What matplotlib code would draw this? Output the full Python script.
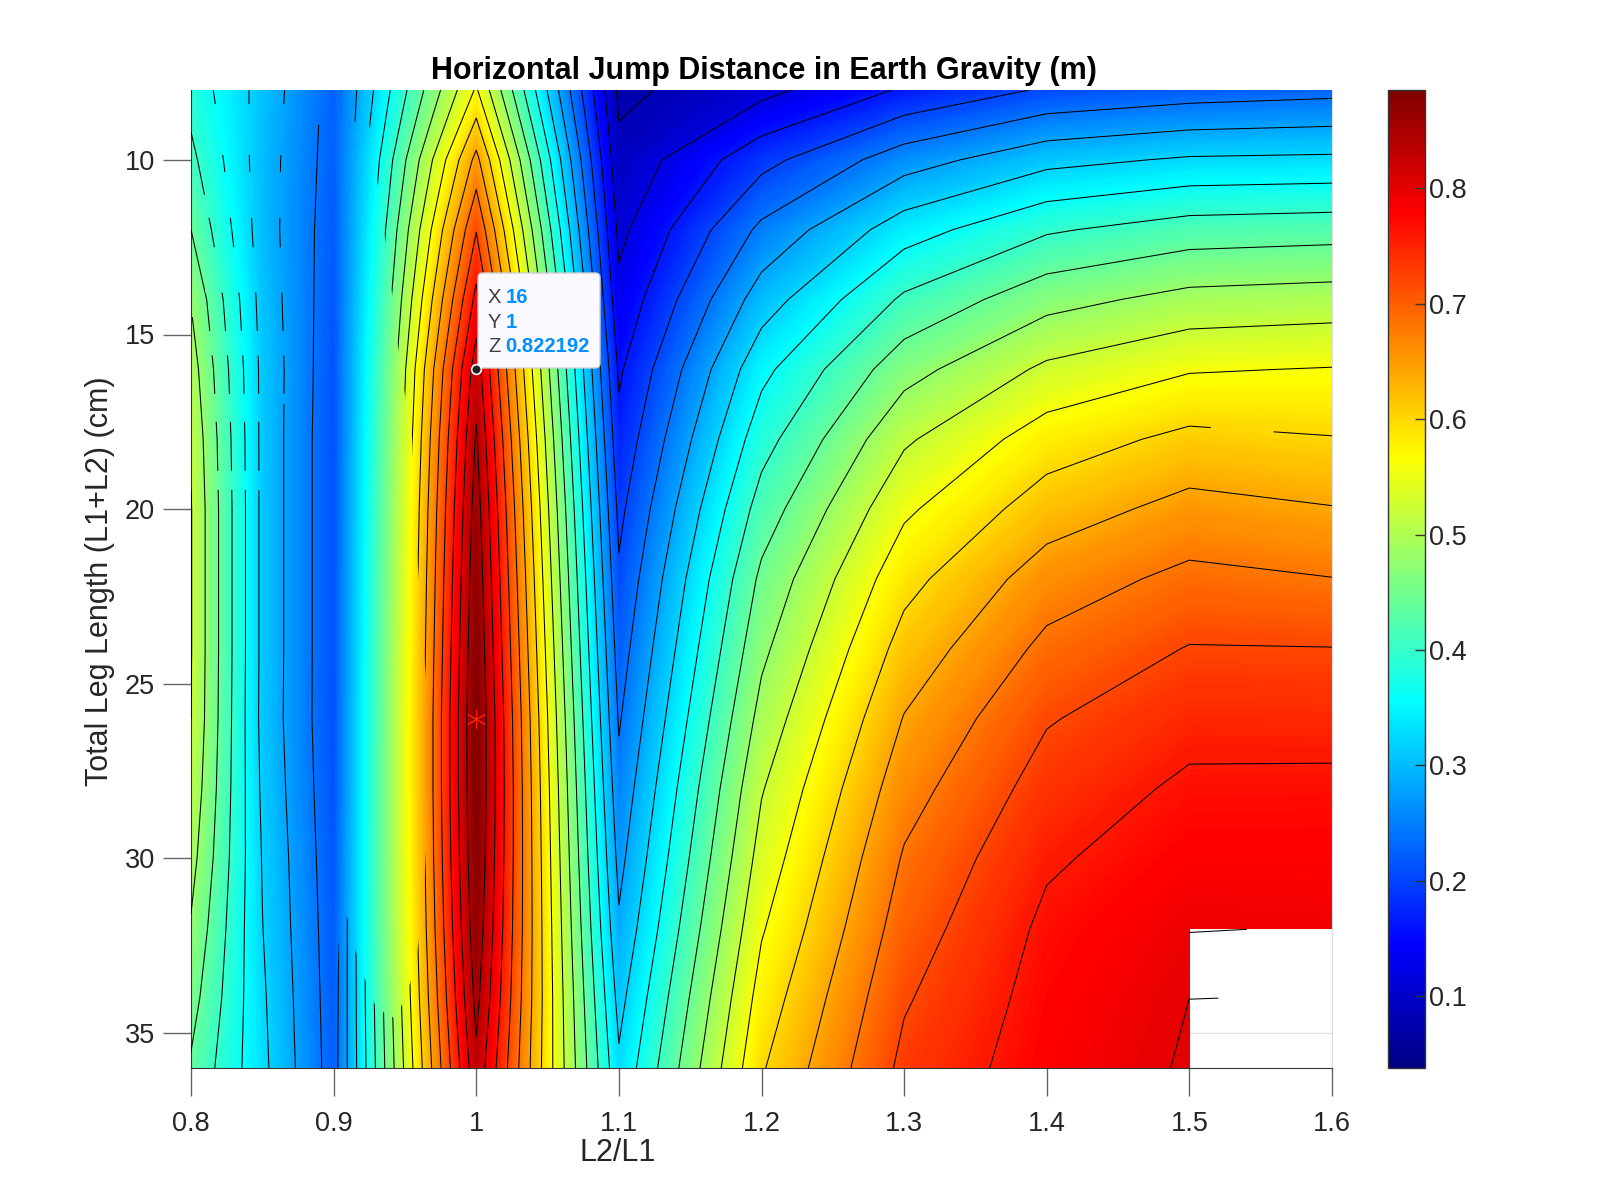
import numpy as np
import matplotlib
matplotlib.use("Agg")
import matplotlib.pyplot as plt
from matplotlib.cm import ScalarMappable
from matplotlib.colors import Normalize, LinearSegmentedColormap
from matplotlib.patches import FancyBboxPatch, BoxStyle
from matplotlib.path import Path

plt.rcParams['font.family'] = ['Liberation Sans', 'DejaVu Sans']

ratio = [0.8, 0.85, 0.9, 1.0, 1.1, 1.2, 1.3, 1.4, 1.5, 1.6]
leg = [8, 10, 12, 14, 16, 18, 20, 22, 24, 26, 28, 30, 32, 34, 36]

z_080 = [.385, .41, .44, .478, .50, .515, .522, .522, .522, .52, .51, .495, .476, .456, .435]
z_085 = [.305, .30, .30, .305, .31, .31, .31, .31, .31, .309, .313, .318, .321, .326, .33]
z_090 = [.225, .222, .218, .215, .212, .21, .21, .21, .21, .21, .212, .215, .218, .22, .222]
z_100 = [.565, .652, .718, .772, .822, .845, .86, .87, .878, .885, .884, .878, .868, .852, .83]
z_110 = [.071, .091, .11, .131, .154, .172, .19, .206, .221, .236, .252, .268, .286, .307, .327]
z_120 = [.108, .187, .249, .30, .349, .384, .418, .449, .471, .494, .517, .536, .556, .577, .596]
z_130 = [.165, .262, .342, .407, .465, .514, .553, .587, .616, .642, .664, .684, .70, .716, .73]
z_140 = [.205, .308, .395, .466, .528, .58, .62, .66, .69, .717, .737, .755, .768, .775, .78]
z_150 = [.22, .325, .419, .493, .557, .61, .653, .69, .722, .747, .767, .78, .793, .80, .803]
z_160 = [.228, .328, .424, .499, .562, .602, .642, .681, .721, .746, .768, .78, .79, np.nan, np.nan]

levels = np.arange(0.04, 0.88, 0.04)
x_ticks = [0.8, 0.9, 1.0, 1.1, 1.2, 1.3, 1.4, 1.5, 1.6]
x_labels = ['0.8', '0.9', '1', '1.1', '1.2', '1.3', '1.4', '1.5', '1.6']
y_ticks = [10, 15, 20, 25, 30, 35]
cb_ticks = [0.1, 0.2, 0.3, 0.4, 0.5, 0.6, 0.7, 0.8]
clim = (0.038, 0.885)

# MATLAB's jet has its corners at the eighths of the range
jet_nodes = [(0.0, (0, 0, 0.516)), (0.125, (0, 0, 1)), (0.375, (0, 1, 1)), (0.625, (1, 1, 0)),
             (0.875, (1, 0, 0)), (1.0, (0.5, 0, 0))]
jet = LinearSegmentedColormap.from_list('jet_matlab', jet_nodes, N=256)

# parts of the plane where the contour lines show through the surface
main_visible = [(.905, 8), (1.605, 8), (1.605, 36.1), (.9, 36.1), (.905, 31), (.9185, 33.1),
                (.93, 34.3), (.944, 34.6), (.957, 33.2), (.963, 31.2), (.968, 27), (.965, 25),
                (.958, 21), (.955, 18), (.946, 15.7), (.94, 13.5), (.932, 11), (.925, 9),
                (.905, 8.8)]
band_visible = [(.875, .898, 9, 36.1), (.795, .875, 19.45, 36.1), (.795, .875, 8, 8.4),
                (.81, .875, 9.86, 10.35), (.81, .875, 11.66, 12.5), (.81, .875, 13.8, 14.9),
                (.81, .875, 15.6, 16.7), (.81, .875, 17.5, 18.9), (.85, .875, 17, 36.1),
                (.795, .81, 8.9, 11), (.795, .81, 12, 14), (.795, .812, 14.5, 19.45)]
band_hidden = [(1.515, 1.559, 17, 18.6)]
stub_x = [[1.5, 1.54], [1.5, 1.52]]
stub_y = [[32.12, 32.03], [34.03, 34.0]]

Z = np.ma.masked_invalid(np.column_stack(
    [z_080, z_085, z_090, z_100, z_110, z_120, z_130, z_140, z_150, z_160]))
X, Y = np.meshgrid(ratio, leg)

W, H = 1600, 1200
fig = plt.figure(figsize=(16, 12), dpi=100, facecolor='white')
def rect(l, t, r, b):
    return [l / W, 1 - b / H, (r - l) / W, (b - t) / H]

ax = fig.add_axes(rect(191, 90, 1332, 1068))
norm = Normalize(*clim)
ax.set_axisbelow(True)
ax.grid(True, color='#e2e2e2', lw=1)
ax.contourf(X, Y, Z, levels=np.linspace(clim[0], clim[1], 300), cmap=jet, norm=norm,
            extend='both', antialiased=False, zorder=2, corner_mask=False)
cs = ax.contour(X, Y, Z, levels=levels, colors='black', linewidths=0.75, zorder=3,
                corner_mask=False)
for sx, sy in zip(stub_x, stub_y):
    ax.plot(sx, sy, color='black', lw=0.75, zorder=3)

def ring(pts, sign=1):
    a = np.array(pts, float)
    area = np.sum(a[:, 0] * np.roll(a[:, 1], -1) - np.roll(a[:, 0], -1) * a[:, 1])
    return a if area * sign > 0 else a[::-1]
verts, codes = [], []
def add(poly, sign=1):
    r = ring(poly, sign)
    verts.extend(list(map(tuple, r)) + [tuple(r[0])])
    codes.extend([Path.MOVETO] + [Path.LINETO] * (len(r) - 1) + [Path.CLOSEPOLY])
add(main_visible)
for a, b, c, d in band_visible:
    add([(a, c), (b, c), (b, d), (a, d)])
for a, b, c, d in band_hidden:
    add([(a, c), (b, c), (b, d), (a, d)], -1)

ax.set_xlim(0.8, 1.6)
ax.set_ylim(36, 8)
cs.set_clip_path(Path(verts, codes), transform=ax.transData)
ax.set_xticks(x_ticks, x_labels)
ax.set_yticks(y_ticks)
ax.tick_params(axis='both', direction='out', length=20, width=1, color='#666666',
               labelsize=19.5, labelcolor='#262626')
ax.tick_params(axis='x', pad=11)
ax.tick_params(axis='y', pad=6)
ax.spines['top'].set_visible(False)
ax.spines['right'].set_color('#dddddd')
ax.spines['left'].set_color('#333333')
ax.spines['bottom'].set_color('#333333')

ax.plot([1.0], [26], marker=(6, 2, 0), ms=14, color='#ff2000', mew=0.7, zorder=4)
ax.plot([1.0], [16], marker='o', ms=7, mfc='#222222', mec='white', mew=1.2, zorder=7,
        clip_on=False)

# data tip
px = fig.transFigure
def P(x, y):
    return (x / W, 1 - y / H)
box = FancyBboxPatch(P(478, 368), 122 / W, 95 / H, transform=px,
                     boxstyle=BoxStyle('Round', pad=0, rounding_size=0.003),
                     fc='#f9f9ff', ec='#cfcfcf', lw=1, zorder=5, mutation_aspect=1.33)
ax.add_patch(box)
for lab, val, yy in (('X', '16', 297), ('Y', '1', 322), ('Z', '0.822192', 347)):
    ax.text(*P(488, yy), lab, transform=px, fontsize=14.6, color='#404040',
            va='center', ha='left', zorder=6)
    ax.text(*P(505.5, yy), val, transform=px, fontsize=14.6, color='#0090ff',
            fontweight='bold', va='center', ha='left', zorder=6)

fig.text(*P(764, 71), 'Horizontal Jump Distance in Earth Gravity (m)', fontsize=22,
         fontweight='bold', color='black', ha='center', va='center')
fig.text(*P(618, 1153), 'L2/L1', fontsize=22, color='#262626', ha='center', va='center')
fig.text(*P(100, 581), 'Total Leg Length (L1+L2) (cm)', fontsize=22, color='#262626',
         ha='center', va='center', rotation=90)

cax = fig.add_axes(rect(1388, 90, 1425, 1068))
cb = fig.colorbar(ScalarMappable(norm=norm, cmap=jet), cax=cax)
cb.set_ticks(cb_ticks)
cb.ax.tick_params(direction='in', length=7, width=1, color='#333333', labelsize=19.5,
                  labelcolor='#262626', pad=3)
cb.outline.set_edgecolor('#333333')
cb.outline.set_linewidth(1)

fig.savefig('out.png', dpi=100)
